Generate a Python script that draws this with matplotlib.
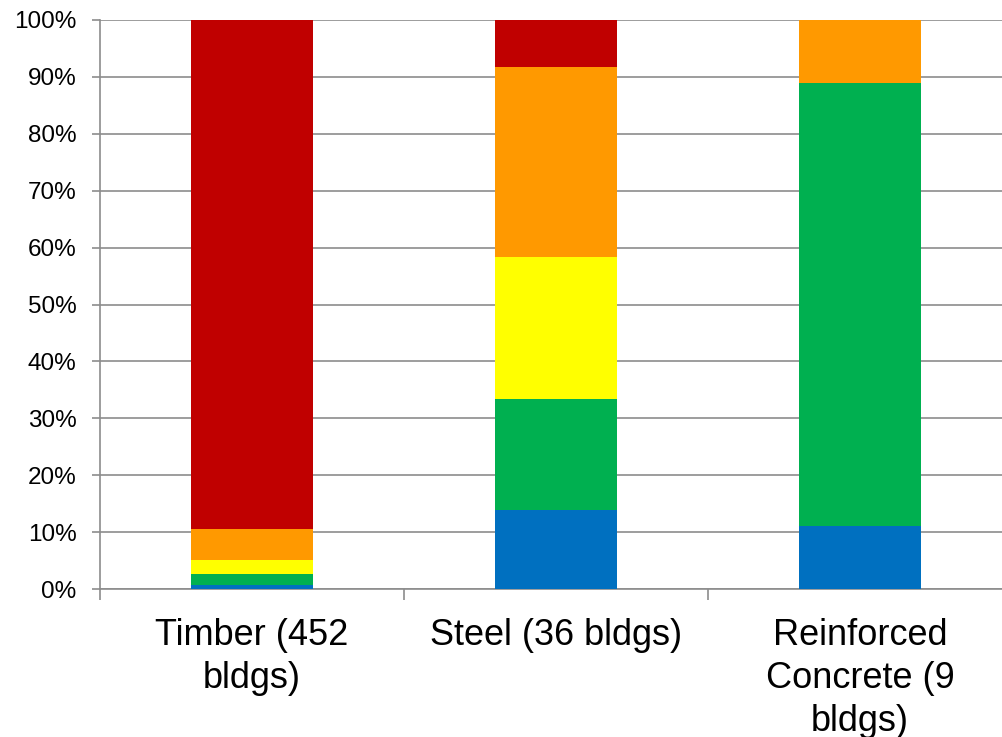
import matplotlib
matplotlib.use('Agg')
import matplotlib.pyplot as plt
import numpy as np

plt.rcParams['font.family'] = ['Liberation Sans', 'DejaVu Sans']

# Building counts per damage level, per structure type
categories = ['Timber (452\nbldgs)', 'Steel (36 bldgs)', 'Reinforced\nConcrete (9\nbldgs)']
totals = [452, 36, 9]
blue = [3, 5, 1]
green = [9, 7, 7]
yellow = [11, 9, 0]
orange = [25, 12, 1]
red = [404, 3, 0]

series = [
    (blue, '#0070C0'),
    (green, '#00B050'),
    (yellow, '#FFFF00'),
    (orange, '#FF9900'),
    (red, '#C00000'),
]

fig = plt.figure(figsize=(10.03, 7.37), dpi=100)
ax = fig.add_axes([100 / 1003, 148 / 737, 912 / 1003, 569 / 737])

x = np.arange(len(categories))
bottom = np.zeros(len(categories))
for counts, color in series:
    pct = np.array(counts) / np.array(totals) * 100
    ax.bar(x, pct, width=0.4, bottom=bottom, color=color, linewidth=0, zorder=3)
    bottom += pct

ax.set_xlim(-0.5, len(categories) - 0.5)
ax.set_ylim(0, 100)

ax.set_yticks(np.arange(0, 101, 10))
ax.set_yticklabels([f'{v}%' for v in range(0, 101, 10)], fontsize=17.5)
ax.yaxis.grid(True, color='#8c8c8c', linewidth=1.2, zorder=0)
ax.set_axisbelow(True)

ax.set_xticks(x)
ax.set_xticklabels(categories, fontsize=26, linespacing=1.3)
ax.set_xticks(np.arange(-0.5, len(categories), 1), minor=True)
ax.tick_params(axis='x', which='major', length=0, pad=21)
ax.tick_params(axis='x', which='minor', length=8, width=1.2, color='#8c8c8c')
ax.tick_params(axis='y', length=6, width=1.2, color='#8c8c8c', pad=11)

for side in ['top', 'right']:
    ax.spines[side].set_visible(False)
for side in ['left', 'bottom']:
    ax.spines[side].set_color('#8c8c8c')
    ax.spines[side].set_linewidth(1.2)

fig.savefig('out.png', dpi=100, facecolor='white')
